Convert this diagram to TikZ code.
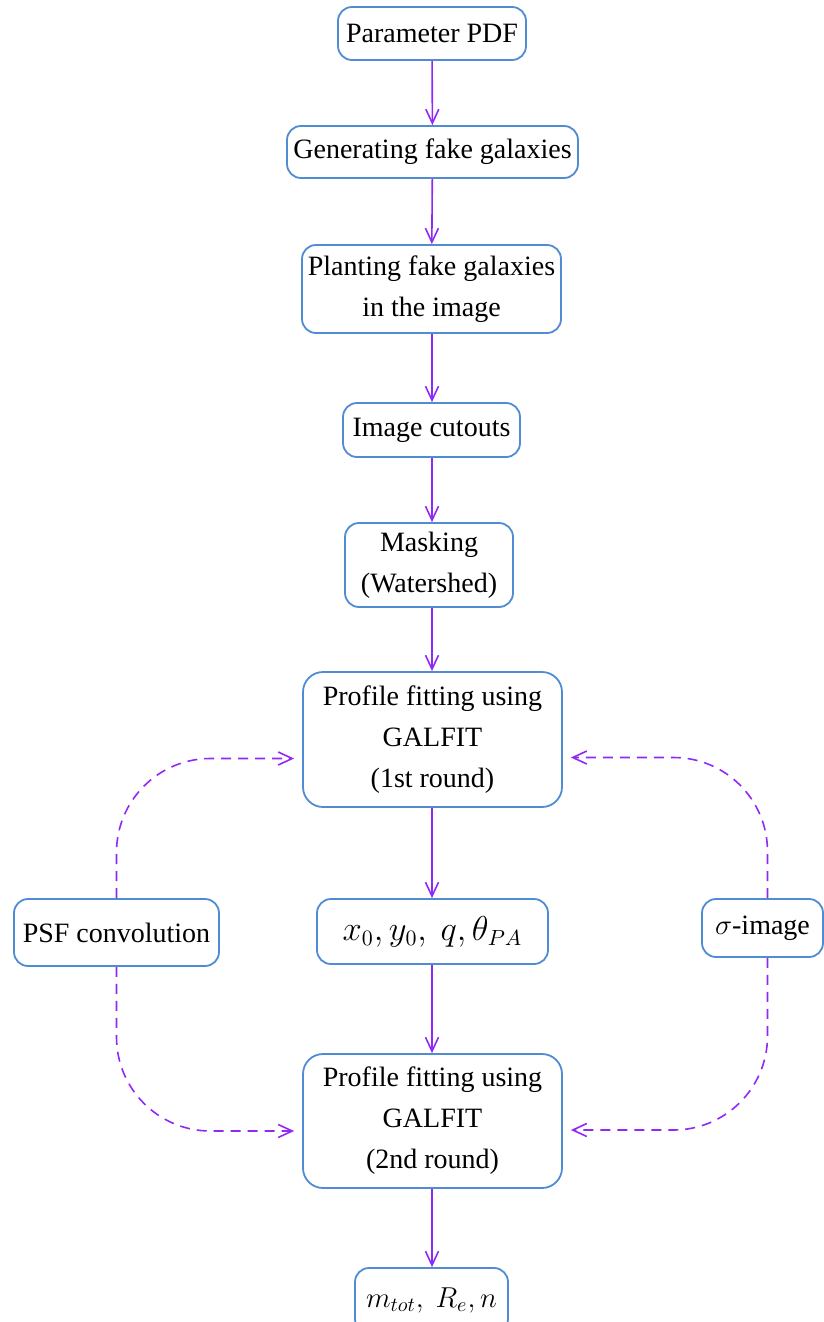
\documentclass[tikz,border=0pt]{standalone}
\usepackage{fontspec}
\setmainfont{Liberation Serif}
\usetikzlibrary{arrows.meta}
\definecolor{boxblue}{RGB}{80,140,212}
\definecolor{arrviolet}{RGB}{145,40,245}
\begin{document}
\begin{tikzpicture}[x=0.5pt,y=-0.5pt,
  box/.style={draw=boxblue, line width=0.9pt, rounded corners=7pt, fill=white,
    align=center, inner sep=0pt, font=\fontsize{14}{20.5}\selectfont},
  bigbox/.style={box, rounded corners=10pt},
  mathbox/.style={box, font=\fontsize{16}{20}\selectfont},
  flow/.style={draw=arrviolet, line width=0.8pt, -{Straight Barb[length=7pt,width=6.5pt]}},
  dasharrow/.style={flow, dash pattern=on 5pt off 3.5pt, rounded corners=47pt, shorten >=4pt}]
\useasboundingbox (0,0) rectangle (824,1322);
\node[box, minimum width=94pt, minimum height=26.5pt] (pdf) at (432,33.5) {Parameter PDF};
\node[box, minimum width=145.5pt, minimum height=26pt] (gen) at (432.5,152) {Generating fake galaxies};
\node[box, minimum width=129.5pt, minimum height=44pt] (plant) at (431.5,289) {Planting fake galaxies\\in the image};
\node[box, minimum width=88.5pt, minimum height=27pt] (cut) at (431.5,430) {Image cutouts};
\node[box, minimum width=84pt, minimum height=42pt] (mask) at (429,565) {Masking\\(Watershed)};
\node[bigbox, minimum width=129.5pt, minimum height=67.5pt] (fit1) at (432.5,739.5) {Profile fitting using\\GALFIT\\(1st round)};
\node[mathbox, minimum width=115.5pt, minimum height=32.5pt] (par) at (432.5,931.5) {$x_0, y_0,\ q, \theta_{PA}$};
\node[bigbox, minimum width=129.5pt, minimum height=67pt] (fit2) at (432.5,1121) {Profile fitting using\\GALFIT\\(2nd round)};
\node[mathbox, font=\fontsize{14.5}{18}\selectfont, minimum width=76.5pt, minimum height=32.5pt] (out) at (431.5,1300.5) {$m_{tot},\ R_e, n$};
\node[box, minimum width=102.5pt, minimum height=33.5pt] (psf) at (116.5,932.5) {PSF convolution};
\node[box, minimum width=60.5pt, minimum height=29pt] (sig) at (762.5,928) {$\sigma$-image};
\draw[flow] (pdf) -- (gen);
\draw[flow] (gen) -- (plant);
\draw[flow] (plant.south -| pdf) -- (cut.north -| pdf);
\draw[flow] (cut.south -| pdf) -- (mask.north -| pdf);
\draw[flow] (mask.south -| pdf) -- (fit1.north -| pdf);
\draw[flow] (fit1.south -| pdf) -- (par.north -| pdf);
\draw[flow] (par.south -| pdf) -- (fit2.north -| pdf);
\draw[flow] (fit2.south -| pdf) -- (out.north -| pdf);
\draw[dasharrow] (psf.north) |- ([shift={(0,19)}]fit1.west);
\draw[dasharrow] (psf.south) |- ([shift={(0,10)}]fit2.west);
\draw[dasharrow] ([shift={(5,0)}]sig.north) |- ([shift={(0,18)}]fit1.east);
\draw[dasharrow] ([shift={(5,0)}]sig.south) |- ([shift={(0,9)}]fit2.east);
\end{tikzpicture}
\end{document}
